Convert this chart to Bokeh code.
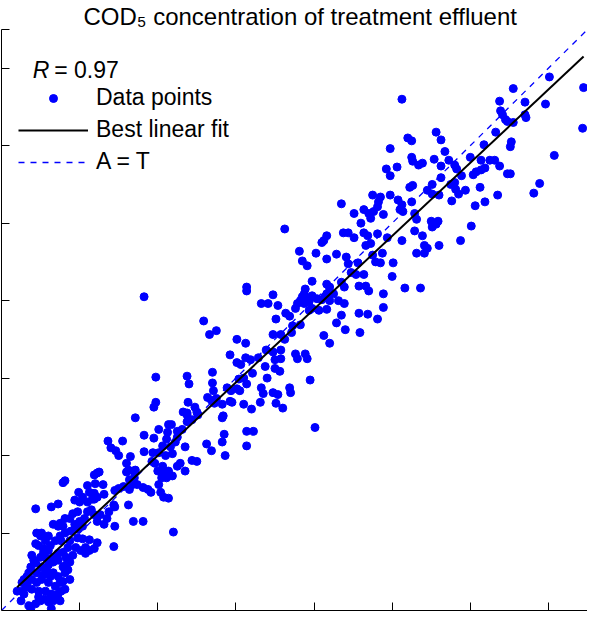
import numpy as np
from bokeh.plotting import figure
from bokeh.models import Range1d, FixedTicker, Legend, LegendItem, Label
from bokeh.embed import file_html
from bokeh.resources import INLINE

FONT = "Liberation Sans"
TITLE = "COD\u2085 concentration of treatment effluent"
R_TEXT = "= 0.97"
FIT_SLOPE = 0.945
FIT_INTERCEPT = 8.8
AXIS_MAX = 600
TICKS = [80, 160, 240, 320, 400, 480, 560, 600]

# lower part of the cloud
low_x = [137,190,109,124,112,117,120,146,156,161,170,171,180,185,190,195,
         169,180,178,173,165,168,155,161,188,175,183,180,195,188,
         146,154,157,165,160,166,164,169,171,175,
         132,128,130,128,135,137,131,134,139,136,
         145,150,153,161,163,166,171,
         98,95,100,96,88,90,95,104,105,98,95,
         120,125,116,131,79,75,83,88,93,63,65,
         115,116,116,110,101,108,105,98,95,135,145,130,
         51,58,35,80,
         78,73,70,65,60,53,58,63,65,71,78,83,75,80,85,88,92,
         78,83,90,98,86,90,95,76,81,86,115,176]
low_y = [199,202,175,175,168,165,160,181,178,187,184,192,185,187,195,197,
         177,179,174,169,170,160,163,163,169,162,152,149,155,144,
         164,154,152,149,144,143,137,137,144,139,
         159,152,145,143,144,145,135,130,130,137,
         127,125,122,130,122,117,116,
         142,140,143,131,129,122,121,130,120,117,115,
         126,128,124,125,122,114,117,112,115,132,134,
         109,107,87,102,99,95,89,92,99,92,92,109,
         107,110,105,112,
         102,100,95,95,90,89,87,87,80,82,84,87,89,92,95,102,104,
         75,74,73,70,65,62,64,65,62,59,66,81]

# dense cluster near the origin
dense_x = [41,36,40,45,38,43,48,35,31,40,46,53,58,63,66,70,
           63,65,58,53,46,41,35,30,28,31,36,41,48,55,60,63,65,
           58,51,45,38,31,25,21,20,16,20,28,30,35,40,45,48,51,60,56,61,23,26,
           48,53,58,50,43,36,33,43,50,55,60,48,68,70,73,66,70,53,38,23,26,68,61]
dense_y = [80,80,77,72,67,64,62,69,57,55,54,55,59,60,55,50,
           45,39,35,39,42,45,49,45,39,32,29,32,29,25,29,30,22,
           17,17,20,20,22,24,29,20,20,10,5,2,7,10,12,9,2,10,15,20,32,35,
           47,50,52,35,37,39,52,60,67,72,77,77,65,72,57,47,32,10,14,17,27,42,72]

# lower-middle points below the line
lowr_x = [200,210,215,226,228,229,251,258,251,321]
lowr_y = [154,172,165,174,182,160,185,185,170,189]

# middle of the cloud
mid_x = [146,207,213,220,251,251,278,266,273,283,291,295,281,
         241,250,278,286,290,297,234,250,255,263,241,245,
         271,278,286,280,286,270,280,285,257,248,243,251,241,235,231,244,
         272,266,268,278,283,295,296,265,281,288,256,248,234,236,
         226,226,227,216,216,217,211,215,218,
         190,192,191,198,200,186,190,201,158,158,156,174,220]
mid_y = [324,299,285,289,334,330,326,317,317,315,307,304,301,
         280,276,285,285,280,287,264,261,259,261,256,254,
         269,267,269,259,260,252,250,247,245,240,239,234,229,227,230,227,
         240,230,224,225,223,230,225,215,214,209,208,213,216,215,
         213,199,201,246,235,227,220,217,214,
         242,234,215,210,205,205,204,202,241,215,210,192,219]

# upper-middle part
upper_x = [333,330,328,350,355,361,371,375,385,395,410,423,431,373,378,433,436,448,425,433,
           305,322,308,313,333,343,353,355,365,380,383,388,390,401,358,363,371,400,318,
           333,336,348,351,366,373,376,
           311,310,308,313,318,306,303,301,310,315,323,328,331,333,340,336,345,351,333,325,318,315,
           391,391,413,429,366,375,385,343,348,352,367,298,306,330,336,301,311,313,303,316,
           394,380,388,386,348,361,371,376,378,385,391,381,368,290]
upper_y = [387,382,380,390,390,385,390,387,389,385,382,392,387,377,379,377,374,377,369,369,
           371,369,361,356,363,368,365,358,359,367,360,359,369,359,349,347,347,345,340,
           337,334,339,334,335,335,330,
           332,327,324,322,325,320,317,312,317,319,322,321,324,327,327,320,320,317,311,310,312,310,
           327,313,333,333,307,306,301,297,305,290,287,294,295,284,276,265,265,260,260,238,
           456,429,427,422,420,410,414,410,405,417,409,412,400,394]

# top of the cloud
top_x = [410,524,510,536,557,561,596,595,566,
         511,513,516,518,524,536,537,506,522,521,494,
         445,450,416,420,398,454,
         420,421,443,431,427,450,458,464,466,480,491,500,505,510,518,521,471,483,486,491,495,
         405,398,
         450,441,436,441,448,460,465,468,461,475,464,
         490,551,545,508,495,485,481,
         418,421,398,406,410,408,411,420,423,425,440,445,441,447,470]
top_y = [528,539,526,525,523,551,540,498,470,
         516,512,507,505,504,512,509,494,484,479,481,
         494,486,488,485,477,474,
         468,464,466,462,460,459,465,460,456,468,465,465,465,459,451,451,449,450,453,455,457,
         458,449,
         447,440,434,430,429,440,435,430,423,434,442,
         437,441,431,429,422,418,397,
         437,439,429,424,419,414,412,422,410,404,402,399,396,402,382]

xs = np.array(low_x + dense_x + lowr_x + mid_x + upper_x + top_x, dtype=float)
ys = np.array(low_y + dense_y + lowr_y + mid_y + upper_y + top_y, dtype=float)

p = figure(width=587, height=611, output_backend="svg", toolbar_location=None,
           x_range=Range1d(0, AXIS_MAX), y_range=Range1d(0, AXIS_MAX),
           min_border_left=1, min_border_right=0, min_border_top=0, min_border_bottom=1)
p.title.text = TITLE
p.title.text_font = FONT
p.title.text_font_size = "24px"
p.title.text_font_style = "normal"
p.title.text_color = "black"
p.title.align = "left"
p.title.offset = 82
p.title.standoff = 0
p.grid.visible = False
p.outline_line_color = None
p.background_fill_color = "white"
p.border_fill_color = "white"

for ax in (p.xaxis, p.yaxis):
    ax.ticker = FixedTicker(ticks=TICKS)
    ax.major_tick_in = 8
    ax.major_tick_out = 0
    ax.minor_tick_line_color = None
    ax.major_label_text_font_size = "0px"
    ax.major_label_text_color = None
    ax.major_label_standoff = 0
    ax.axis_line_color = "black"
    ax.axis_line_width = 1
    ax.major_tick_line_color = "black"

pts = p.scatter(xs, ys, size=8, fill_color="#0000ff", line_color="#0000ff")
at = p.line([0, AXIS_MAX], [0, AXIS_MAX], line_color="#0000ff", line_width=1.3, line_dash="6 6")
xf = np.array([xs.min(), xs.max()])
fit = p.line(xf, FIT_SLOPE * xf + FIT_INTERCEPT, line_color="black", line_width=2)

legend = Legend(items=[LegendItem(label="Data points", renderers=[pts]),
                       LegendItem(label="Best linear fit", renderers=[fit]),
                       LegendItem(label="A = T", renderers=[at])],
                location=(17, 435), orientation="vertical",
                label_text_font=FONT, label_text_font_size="23px", label_text_color="black",
                glyph_width=70, glyph_height=20, label_height=20,
                spacing=5, padding=0, margin=0, label_standoff=8,
                border_line_color=None, background_fill_alpha=0)
p.add_layout(legend)

p.add_layout(Label(x=32, y=558, text="R", text_font=FONT, text_font_style="italic",
                   text_color="black", text_font_size="23px", text_baseline="alphabetic"))
p.add_layout(Label(x=54, y=558, text=R_TEXT, text_font=FONT, text_color="black",
                   text_font_size="23px", text_baseline="alphabetic"))

open("out.html", "w").write(file_html(p, INLINE))
